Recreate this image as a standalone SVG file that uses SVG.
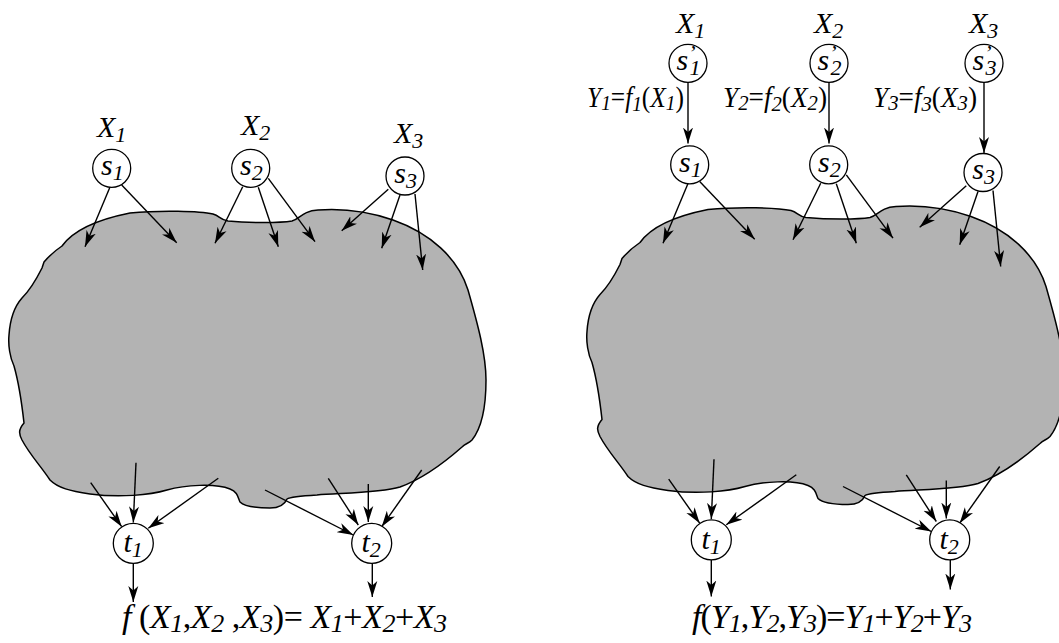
<svg xmlns="http://www.w3.org/2000/svg" width="1059" height="643" viewBox="0 0 1059 643">
<style>
.blob{fill:#b3b3b3;stroke:#000;stroke-width:1.5;stroke-linejoin:round}
.node circle{fill:#fff;stroke:#000;stroke-width:1.3}
.conn line{stroke:#000;stroke-width:1.4;marker-end:url(#ah)}
.up{font-style:normal}
</style>
<defs>
<marker id="ah" viewBox="0 0 17 11" refX="16" refY="5.5" markerWidth="17" markerHeight="11" markerUnits="userSpaceOnUse" orient="auto">
<path d="M0,0.5 L16,5.5 L0,10.5 L4.5,5.5 Z" fill="#000"/>
</marker>
<path id="blobshape" d="M44,262 C50,255 56,250 62,246 C72,232 95,220 130,213 C160,210 200,211 213,214 C220,216 220,220 228,221 C250,223 280,223 292,221 C300,219 302,211 318,210 C345,208 370,212 393,220 C430,233 458,258 468,290 C478,325 486,355 486,380 C486,410 480,430 472,440 C468,444 466,443 462,447 C445,462 425,478 400,487 C380,493 340,493 317,495 C300,496 290,497 287,499 C285,504 280,508 270,508 C260,508 245,507 240,502 C238,498 238,492 230,489 C215,483 185,485 167,490 C150,495 120,498 90,494 C70,491 58,488 50,480 C40,465 30,455 22,440 C19,434 18,430 24,423 C22,405 18,380 14,366 C10,358 8,345 9,335 C10,320 14,307 22,298 C30,290 36,280 42,268 Z"/>
</defs>
<rect width="1059" height="643" fill="#fff"/>

<g id="blob-left"><use href="#blobshape" class="blob"/></g>
<g id="blob-right" transform="translate(578,-3.5)"><use href="#blobshape" class="blob"/></g>

<g id="connectors" class="conn">
  <g id="conn-left">
    <line x1="110" y1="187" x2="85" y2="246.7"/>
    <line x1="121.7" y1="185" x2="176.7" y2="242.7"/>
    <line x1="242.7" y1="186.7" x2="215" y2="243.3"/>
    <line x1="258.3" y1="187.3" x2="278.3" y2="246.7"/>
    <line x1="268.3" y1="178.3" x2="315" y2="241.7"/>
    <line x1="388.3" y1="189.3" x2="341.7" y2="230.7"/>
    <line x1="400" y1="195" x2="381.7" y2="248.3"/>
    <line x1="415" y1="194" x2="422.7" y2="270"/>
    <line x1="90.7" y1="482.7" x2="121.7" y2="526.7"/>
    <line x1="136" y1="462.7" x2="133.3" y2="522.5"/>
    <line x1="218.3" y1="478.3" x2="148.3" y2="528.3"/>
    <line x1="265" y1="490" x2="353.3" y2="535"/>
    <line x1="328.3" y1="478.3" x2="358.3" y2="525"/>
    <line x1="368.3" y1="484" x2="368.3" y2="522"/>
    <line x1="421.7" y1="470" x2="381.7" y2="526.7"/>
    <line x1="133.3" y1="563.3" x2="133.3" y2="602"/>
    <line x1="372.3" y1="563.3" x2="372.3" y2="597"/>
  </g>
  <g id="conn-right" transform="translate(578,-3.5)">
    <line x1="110" y1="187" x2="85" y2="246.7"/>
    <line x1="121.7" y1="185" x2="176.7" y2="242.7"/>
    <line x1="242.7" y1="186.7" x2="215" y2="243.3"/>
    <line x1="258.3" y1="187.3" x2="278.3" y2="246.7"/>
    <line x1="268.3" y1="178.3" x2="315" y2="241.7"/>
    <line x1="388.3" y1="189.3" x2="341.7" y2="230.7"/>
    <line x1="400" y1="195" x2="381.7" y2="248.3"/>
    <line x1="415" y1="194" x2="422.7" y2="270"/>
    <line x1="90.7" y1="482.7" x2="121.7" y2="526.7"/>
    <line x1="136" y1="462.7" x2="133.3" y2="522.5"/>
    <line x1="218.3" y1="478.3" x2="148.3" y2="528.3"/>
    <line x1="265" y1="490" x2="353.3" y2="535"/>
    <line x1="328.3" y1="478.3" x2="358.3" y2="525"/>
    <line x1="368.3" y1="484" x2="368.3" y2="522"/>
    <line x1="421.7" y1="470" x2="381.7" y2="526.7"/>
    <line x1="133.3" y1="563.3" x2="133.3" y2="600"/>
    <line x1="372.3" y1="563.3" x2="372.3" y2="593"/>
  </g>
  <g id="conn-prime">
    <line x1="688" y1="82.5" x2="688" y2="143.5"/>
    <line x1="829" y1="82.5" x2="829" y2="143.5"/>
    <line x1="984" y1="82.5" x2="984" y2="153"/>
  </g>
</g>

<g font-family="Liberation Serif, Times New Roman, serif" font-style="italic" fill="#000" font-size="30">
<!-- left nodes -->
<g id="L-s1" class="node"><circle cx="111.7" cy="168.3" r="19"/><text x="101" y="175">s<tspan font-size="22" dy="5">1</tspan></text></g>
<g id="L-s2" class="node"><circle cx="250.7" cy="168.3" r="19"/><text x="240" y="175">s<tspan font-size="22" dy="5">2</tspan></text></g>
<g id="L-s3" class="node"><circle cx="405" cy="176" r="19"/><text x="394.3" y="182.5">s<tspan font-size="22" dy="5">3</tspan></text></g>
<g id="L-t1" class="node"><circle cx="133.3" cy="543.3" r="20"/><text x="123.5" y="552">t<tspan font-size="22" dy="5">1</tspan></text></g>
<g id="L-t2" class="node"><circle cx="371.7" cy="543.3" r="20"/><text x="361.5" y="552">t<tspan font-size="22" dy="5">2</tspan></text></g>

<!-- right nodes -->
<g transform="translate(578,-3.5)">
<g id="R-s1" class="node"><circle cx="111.7" cy="168.3" r="19"/><text x="101" y="175">s<tspan font-size="22" dy="5">1</tspan></text></g>
<g id="R-s2" class="node"><circle cx="250.7" cy="168.3" r="19"/><text x="240" y="175">s<tspan font-size="22" dy="5">2</tspan></text></g>
<g id="R-s3" class="node"><circle cx="405" cy="176" r="19"/><text x="394.3" y="182.5">s<tspan font-size="22" dy="5">3</tspan></text></g>
<g id="R-t1" class="node"><circle cx="133.3" cy="543.3" r="20"/><text x="123.5" y="552">t<tspan font-size="22" dy="5">1</tspan></text></g>
<g id="R-t2" class="node"><circle cx="371.7" cy="543.3" r="20"/><text x="361.5" y="552">t<tspan font-size="22" dy="5">2</tspan></text></g>
</g>
<g id="R-sp1" class="node"><circle cx="688" cy="63.3" r="19"/><text x="676.5" y="70">s<tspan font-size="22" dy="-10">’</tspan><tspan font-size="22" dx="-6" dy="15">1</tspan></text></g>
<g id="R-sp2" class="node"><circle cx="829" cy="63.3" r="19"/><text x="817.5" y="70">s<tspan font-size="22" dy="-10">’</tspan><tspan font-size="22" dx="-6" dy="15">2</tspan></text></g>
<g id="R-sp3" class="node"><circle cx="984" cy="63.3" r="19"/><text x="972.5" y="70">s<tspan font-size="22" dy="-10">’</tspan><tspan font-size="22" dx="-6" dy="15">3</tspan></text></g>

<!-- labels -->
<g id="labels">
<text x="97" y="137">X<tspan font-size="22" dy="5">1</tspan></text>
<text x="241" y="135">X<tspan font-size="22" dy="5">2</tspan></text>
<text x="394" y="143">X<tspan font-size="22" dy="5">3</tspan></text>
<text x="676" y="33">X<tspan font-size="22" dy="5">1</tspan></text>
<text x="814" y="33">X<tspan font-size="22" dy="5">2</tspan></text>
<text x="969" y="33">X<tspan font-size="22" dy="5">3</tspan></text>
<text font-size="29" x="587" y="107" textLength="97" lengthAdjust="spacingAndGlyphs">Y<tspan font-size="22" dy="3">1</tspan><tspan class="up" dy="-3">=</tspan>f<tspan font-size="22" dy="4">1</tspan><tspan class="up" dy="-4">(</tspan>X<tspan font-size="22" dy="3">1</tspan><tspan class="up" dy="-3">)</tspan></text>
<text font-size="29" x="723" y="107" textLength="104" lengthAdjust="spacingAndGlyphs">Y<tspan font-size="22" dy="3">2</tspan><tspan class="up" dy="-3">=</tspan>f<tspan font-size="22" dy="4">2</tspan><tspan class="up" dy="-4">(</tspan>X<tspan font-size="22" dy="3">2</tspan><tspan class="up" dy="-3">)</tspan></text>
<text font-size="29" x="873" y="107" textLength="104" lengthAdjust="spacingAndGlyphs">Y<tspan font-size="22" dy="3">3</tspan><tspan class="up" dy="-3">=</tspan>f<tspan font-size="22" dy="4">3</tspan><tspan class="up" dy="-4">(</tspan>X<tspan font-size="22" dy="3">3</tspan><tspan class="up" dy="-3">)</tspan></text>
<text font-size="34" x="122" y="628" textLength="325" lengthAdjust="spacing">f <tspan class="up">(</tspan>X<tspan font-size="26" dy="4">1</tspan><tspan class="up" dy="-4">,</tspan>X<tspan font-size="26" dy="4">2</tspan><tspan class="up" dy="-4"> ,</tspan>X<tspan font-size="26" dy="4">3</tspan><tspan class="up" dy="-4">)= </tspan>X<tspan font-size="26" dy="4">1</tspan><tspan class="up" dy="-4">+</tspan>X<tspan font-size="26" dy="4">2</tspan><tspan class="up" dy="-4">+</tspan>X<tspan font-size="26" dy="4">3</tspan></text>
<text font-size="34" x="692" y="628" textLength="280" lengthAdjust="spacing">f<tspan class="up">(</tspan>Y<tspan font-size="26" dy="4">1</tspan><tspan class="up" dy="-4">,</tspan>Y<tspan font-size="26" dy="4">2</tspan><tspan class="up" dy="-4">,</tspan>Y<tspan font-size="26" dy="4">3</tspan><tspan class="up" dy="-4">)=</tspan>Y<tspan font-size="26" dy="4">1</tspan><tspan class="up" dy="-4">+</tspan>Y<tspan font-size="26" dy="4">2</tspan><tspan class="up" dy="-4">+</tspan>Y<tspan font-size="26" dy="4">3</tspan></text>
</g>
</g>
</svg>
